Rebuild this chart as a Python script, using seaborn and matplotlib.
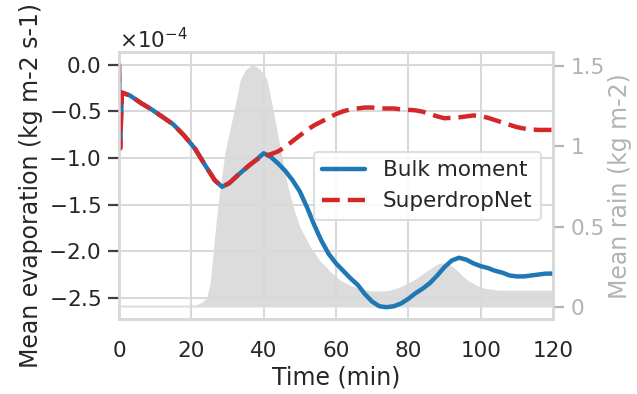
import numpy as np
import pandas as pd
import matplotlib
matplotlib.use("Agg")
import matplotlib.pyplot as plt
import seaborn as sns
from matplotlib.ticker import FuncFormatter

# ---------------- data ----------------
t_evap = [0, 0.3, 0.8, 3, 6, 9, 12, 15, 18, 21, 24, 26.5, 28.5, 30.5, 33, 36, 38,
          40, 42, 44, 46, 48, 50, 52, 54, 56, 58, 60, 62, 64, 66, 68, 70, 72, 74,
          76, 78, 80, 82, 84, 86, 88, 90, 92, 94, 96, 98, 100, 102, 104, 106, 108,
          110, 112, 114, 116, 118, 120]

bulk_moment = [0.0, -0.90, -0.30, -0.33, -0.41, -0.48, -0.56, -0.64, -0.76, -0.90,
               -1.09, -1.24, -1.31, -1.27, -1.18, -1.08, -1.02,
               -0.95, -0.99, -1.06, -1.14, -1.24, -1.36, -1.53, -1.72, -1.89, -2.03,
               -2.13, -2.21, -2.29, -2.36, -2.46, -2.54, -2.59, -2.60,
               -2.59, -2.56, -2.51, -2.45, -2.40, -2.34, -2.26, -2.17, -2.10, -2.07,
               -2.09, -2.13, -2.16, -2.18, -2.21, -2.23, -2.26,
               -2.27, -2.27, -2.26, -2.25, -2.24, -2.24]

superdropnet = [0.0, -0.90, -0.30, -0.33, -0.41, -0.48, -0.56, -0.64, -0.76, -0.90,
                -1.09, -1.24, -1.31, -1.27, -1.18, -1.08, -1.02,
                -0.98, -0.96, -0.93, -0.88, -0.82, -0.76, -0.70, -0.65, -0.61, -0.57,
                -0.53, -0.50, -0.48, -0.47, -0.46, -0.46, -0.47, -0.47,
                -0.47, -0.48, -0.485, -0.49, -0.505, -0.53, -0.555, -0.575, -0.57, -0.565,
                -0.555, -0.545, -0.55, -0.57, -0.595, -0.62, -0.645,
                -0.67, -0.685, -0.695, -0.70, -0.70, -0.70]

t_rain = [0, 10, 20, 21.5, 23, 24.3, 25.2, 25.7, 26.5, 27.2, 27.9, 29.3, 30.7, 31.5,
          33.5, 35, 37, 39, 40.9, 42.6, 44.5, 46.7, 48.5, 50, 52.8, 55.5, 58.5, 61,
          64, 67, 70, 73, 75, 77.7, 80, 82.4, 84.5, 86.8, 88.3, 89.6, 91, 92.4, 94.3,
          96.2, 98.5, 100.6, 103, 105.3, 110, 115, 120]
mean_rain = [0.012, 0.012, 0.012, 0.015, 0.03, 0.06, 0.15, 0.26, 0.45, 0.60, 0.73,
             0.96, 1.11, 1.19, 1.41, 1.48, 1.51, 1.48, 1.42, 1.23, 1.00, 0.75, 0.60,
             0.50, 0.38, 0.29, 0.22, 0.17, 0.135, 0.11, 0.10, 0.10, 0.105, 0.125,
             0.15, 0.18, 0.215, 0.25, 0.27, 0.275, 0.265, 0.25, 0.21, 0.17, 0.14,
             0.12, 0.11, 0.105, 0.105, 0.105, 0.105]

series_names = ["Bulk moment", "SuperdropNet"]
rain_ticks = [0, 0.5, 1, 1.5]

# ---------------- style ----------------
sns.set_theme(style="whitegrid", context="talk")
plt.rcParams["font.family"] = ["DejaVu Sans"]
dark = ".15"
rain_col = "#b3b3b3"
tick_fs = 15.5
label_fs = 17

df = pd.concat([
    pd.DataFrame({"t": t_evap, "v": np.array(bulk_moment) * 1e-4, "model": series_names[0]}),
    pd.DataFrame({"t": t_evap, "v": np.array(superdropnet) * 1e-4, "model": series_names[1]}),
])

fig = plt.figure(figsize=(6.37, 3.94), dpi=100)
ax = fig.add_axes([0.1868, 0.190, 0.6813, 0.6768])
ax2 = ax.twinx()

ax2.fill_between(t_rain, mean_rain, 0, color="#dcdcdc", lw=0)
ax2.grid(False)
ax2.set_ylim(-0.0755, 1.5855)
ax2.set_yticks(rain_ticks)
ax2.yaxis.set_major_formatter(FuncFormatter(lambda v, p: f"{v:g}"))
ax2.tick_params(axis="y", right=True, length=8, width=1.6, color=rain_col,
                labelcolor=rain_col, labelsize=tick_fs, pad=5)
ax2.set_ylabel("Mean rain (kg m-2)", color=rain_col, fontsize=label_fs, labelpad=2)

ax.set_zorder(ax2.get_zorder() + 1)
ax.patch.set_visible(False)

sns.lineplot(data=df, x="t", y="v", hue="model", style="model",
             hue_order=series_names, style_order=series_names,
             palette={series_names[0]: "#1f77b4", series_names[1]: "#d62728"},
             dashes={series_names[0]: "", series_names[1]: (4, 1.8)},
             lw=3.2, ax=ax, sort=False)

ax.set_xlim(0, 120)
ax.set_ylim(-2.728e-4, 0.13e-4)
ax.set_xticks([0, 20, 40, 60, 80, 100, 120])
ax.ticklabel_format(axis="y", style="sci", scilimits=(0, 0), useMathText=True)
ax.yaxis.get_offset_text().set_fontsize(tick_fs)
ax.yaxis.get_offset_text().set_color(dark)
ax.tick_params(axis="y", left=True, length=8, width=1.6, color=".25",
               labelsize=tick_fs, pad=5)
ax.tick_params(axis="x", labelsize=tick_fs, pad=7)
ax.grid(True, color=".85", lw=1.5)
ax.set_xlabel("Time (min)", fontsize=label_fs, color=dark, labelpad=3)
ax.set_ylabel("Mean evaporation (kg m-2 s-1)", fontsize=label_fs, color=dark)

for a in (ax, ax2):
    for s in a.spines.values():
        s.set_color(".85")
        s.set_linewidth(1.8)

h, l = ax.get_legend_handles_labels()
for hh in h:
    hh.set_linewidth(3.2)
ax.legend(h, l, loc="center right", bbox_to_anchor=(0.972, 0.5), borderaxespad=0,
          fontsize=tick_fs, frameon=True, framealpha=0.85, edgecolor=".85")

fig.savefig("out.png", dpi=100)
